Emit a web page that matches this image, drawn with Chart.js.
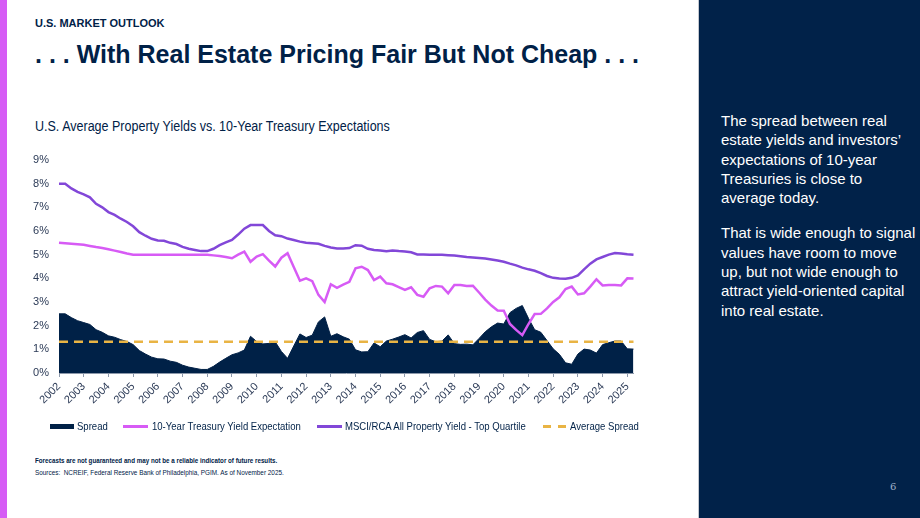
<!DOCTYPE html>
<html>
<head>
<meta charset="utf-8">
<title>Real Estate Pricing</title>
<script src="https://cdn.jsdelivr.net/npm/chart.js@4.4.1/dist/chart.umd.min.js"></script>
<style>
    html, body { margin: 0; padding: 0; }
    body {
        width: 920px; height: 518px; position: relative; overflow: hidden; background: #fff;
        font-family: 'Liberation Sans', Arial, sans-serif;
        color: #002147;
    }
    .stripe { position: absolute; left: 0; top: 0; width: 7px; height: 518px; background: #d65cf5; }
    .kicker { position: absolute; left: 35px; top: 17px; font-weight: bold; font-size: 11px; }
    .title { position: absolute; left: 35px; top: 40px; font-weight: bold; font-size: 25px; white-space: nowrap; }
    .narrow { transform-origin: 0 50%; white-space: nowrap; }
    .chart-title { position: absolute; left: 35px; top: 118px; font-size: 14px; transform: scaleX(0.894); }
    #chartWrap { position: absolute; left: 0; top: 140px; width: 660px; height: 280px; }
    .lg { position: absolute; top: 419px; font-size: 11.5px; line-height: 14px; transform: scaleX(0.83); }
    .sw { position: absolute; }
    .note { position: absolute; left: 35px; font-size: 7.5px; }
    .panel { position: absolute; left: 698px; top: 0; width: 222px; height: 518px; background: #012249; border-left: 1px solid #c3c7cf; box-sizing: border-box; }
    .panel p { margin: 0 0 16px 0; }
    .panel-text { position: absolute; left: 22px; top: 111px; color: #fff; font-size: 15px; line-height: 19.3px; white-space: nowrap; }
    .pagenum { position: absolute; left: 191px; top: 481px; font: 10px 'DejaVu Serif', serif; color: #9fb0c8; }
</style>
</head>
<body>
<div class="stripe"></div>
<div class="kicker">U.S. MARKET OUTLOOK</div>
<div class="title">. . . With Real Estate Pricing Fair But Not Cheap . . .</div>
<div class="chart-title narrow">U.S. Average Property Yields vs. 10-Year Treasury Expectations</div>

<div id="chartWrap"><canvas id="yieldChart" width="660" height="280"></canvas></div>

<div class="sw" style="left:50px;top:424px;width:24px;height:5px;background:#002147"></div>
<div class="lg narrow" style="left:77px">Spread</div>
<div class="sw" style="left:123px;top:425px;width:25px;height:2.5px;background:#d75bf5"></div>
<div class="lg narrow" style="left:152px">10-Year Treasury Yield Expectation</div>
<div class="sw" style="left:317px;top:425px;width:25px;height:2.5px;background:#8247d8"></div>
<div class="lg narrow" style="left:345px">MSCI/RCA All Property Yield - Top Quartile</div>
<div class="sw" style="left:543px;top:425px;width:8px;height:2.5px;background:#e9b444"></div>
<div class="sw" style="left:558px;top:425px;width:8px;height:2.5px;background:#e9b444"></div>
<div class="lg narrow" style="left:570px">Average Spread</div>

<div class="note narrow" style="top:456px;font-weight:bold;transform:scaleX(0.83)">Forecasts are not guaranteed and may not be a reliable indicator of future results.</div>
<div class="note narrow" style="top:468px;transform:scaleX(0.85)">Sources:&nbsp; NCREIF, Federal Reserve Bank of Philadelphia, PGIM. As of November 2025.</div>

<div class="panel">
    <div class="panel-text">
        <p>The spread between real<br>estate yields and investors’<br>expectations of 10-year<br>Treasuries is close to<br>average today.</p>
        <p>That is wide enough to signal<br>values have room to move<br>up, but not wide enough to<br>attract yield-oriented capital<br>into real estate.</p>
    </div>
    <div class="pagenum">6</div>
</div>

<script>
// Year tick labels; data is quarterly from 2002 Q1 to 2025 Q2
const years = ['2002', '2003', '2004', '2005', '2006', '2007', '2008', '2009', '2010', '2011', '2012', '2013',
    '2014', '2015', '2016', '2017', '2018', '2019', '2020', '2021', '2022', '2023', '2024', '2025'];

// MSCI/RCA All Property Yield - Top Quartile (%)
const propertyYield = [
    8.00, 8.00, 7.80, 7.65, 7.55, 7.42, 7.15, 7.00, 6.80, 6.68,
    6.52, 6.38, 6.20, 5.95, 5.80, 5.67, 5.60, 5.59, 5.50, 5.45,
    5.33, 5.25, 5.20, 5.15, 5.15, 5.25, 5.40, 5.52, 5.62, 5.85,
    6.10, 6.25, 6.25, 6.25, 6.00, 5.82, 5.78, 5.68, 5.62, 5.55,
    5.50, 5.48, 5.46, 5.37, 5.30, 5.26, 5.26, 5.28, 5.40, 5.38,
    5.25, 5.20, 5.18, 5.14, 5.18, 5.15, 5.13, 5.10, 5.01, 5.01,
    5.00, 5.00, 5.00, 4.98, 4.96, 4.93, 4.90, 4.88, 4.86, 4.84,
    4.80, 4.75, 4.70, 4.62, 4.55, 4.45, 4.38, 4.32, 4.22, 4.10,
    4.02, 3.99, 3.98, 4.02, 4.12, 4.38, 4.62, 4.80, 4.90, 5.00,
    5.07, 5.05, 5.02, 5.00
];

// 10-Year Treasury Yield Expectation (%)
const treasuryExpectation = [
    5.50, 5.48, 5.46, 5.44, 5.42, 5.37, 5.32, 5.28, 5.23, 5.17,
    5.11, 5.05, 5.00, 5.00, 5.00, 5.00, 5.00, 5.00, 5.00, 5.00,
    5.00, 5.00, 5.00, 5.00, 5.00, 4.97, 4.94, 4.90, 4.85, 5.00,
    5.13, 4.70, 4.92, 5.02, 4.75, 4.50, 4.87, 5.06, 4.48, 3.90,
    4.00, 3.88, 3.30, 3.00, 3.75, 3.60, 3.73, 3.85, 4.42, 4.49,
    4.35, 3.93, 4.07, 3.79, 3.75, 3.63, 3.51, 3.62, 3.30, 3.22,
    3.58, 3.68, 3.65, 3.37, 3.72, 3.72, 3.68, 3.69, 3.40, 3.10,
    2.85, 2.64, 2.63, 2.07, 1.82, 1.60, 2.07, 2.49, 2.50, 2.73,
    3.00, 3.20, 3.55, 3.65, 3.32, 3.37, 3.65, 3.96, 3.70, 3.72,
    3.72, 3.70, 4.00, 3.99
];

// Spread (%)
const spread = [
    2.50, 2.50, 2.34, 2.21, 2.13, 2.05, 1.83, 1.72, 1.57, 1.51,
    1.41, 1.33, 1.20, 0.95, 0.80, 0.67, 0.60, 0.59, 0.50, 0.45,
    0.33, 0.25, 0.20, 0.15, 0.15, 0.28, 0.46, 0.62, 0.77, 0.85,
    0.97, 1.55, 1.33, 1.23, 1.25, 1.32, 0.91, 0.62, 1.14, 1.65,
    1.50, 1.60, 2.16, 2.37, 1.55, 1.66, 1.53, 1.43, 0.98, 0.89,
    0.90, 1.27, 1.11, 1.35, 1.43, 1.52, 1.62, 1.48, 1.71, 1.79,
    1.42, 1.32, 1.35, 1.61, 1.24, 1.21, 1.22, 1.19, 1.46, 1.74,
    1.95, 2.11, 2.07, 2.55, 2.73, 2.85, 2.31, 1.83, 1.72, 1.37,
    1.02, 0.79, 0.43, 0.37, 0.80, 1.01, 0.97, 0.84, 1.20, 1.28,
    1.35, 1.35, 1.02, 1.01
];

const averageSpread = 1.32;

const NAVY = '#002147';
const MAGENTA = '#d75bf5';
const PURPLE = '#8247d8';
const GOLD = '#e9b444';
const AXIS = '#8c98aa';
const TICK = '#2c3b57';
const FONT = "'Liberation Sans', Arial, sans-serif";

// Quarter categories built from the year list, cut to the length of the data
const quarters = [];
years.forEach(y => ['Q1', 'Q2', 'Q3', 'Q4'].forEach(q => quarters.push(y + ' ' + q)));
quarters.length = propertyYield.length;

const isYearStart = i => quarters[i] && quarters[i].endsWith('Q1');

const ctx = document.getElementById('yieldChart').getContext('2d');
new Chart(ctx, {
    type: 'line',
    data: {
        labels: quarters,
        datasets: [
            {
                label: 'MSCI/RCA All Property Yield - Top Quartile',
                data: propertyYield,
                borderColor: PURPLE,
                borderWidth: 2.5,
                pointRadius: 0,
                fill: false,
                order: 1
            },
            {
                label: '10-Year Treasury Yield Expectation',
                data: treasuryExpectation,
                borderColor: MAGENTA,
                borderWidth: 2.5,
                pointRadius: 0,
                fill: false,
                order: 2
            },
            {
                label: 'Average Spread',
                data: [
                    { x: quarters[0], y: averageSpread },
                    { x: quarters[quarters.length - 1], y: averageSpread }
                ],
                borderColor: GOLD,
                borderWidth: 2.5,
                borderDash: [9, 6],
                pointRadius: 0,
                fill: false,
                order: 3
            },
            {
                label: 'Spread',
                data: spread,
                borderColor: NAVY,
                backgroundColor: NAVY,
                borderWidth: 1,
                pointRadius: 0,
                fill: 'origin',
                order: 4
            }
        ]
    },
    options: {
        responsive: false,
        animation: false,
        events: [],
        layout: { padding: { top: 20, right: 26.5, bottom: 0, left: 0 } },
        plugins: {
            legend: { display: false },
            tooltip: { enabled: false }
        },
        scales: {
            x: {
                type: 'category',
                grid: {
                    display: true,
                    drawOnChartArea: false,
                    drawTicks: true,
                    tickLength: 4,
                    color: 'rgba(0,0,0,0)',
                    tickColor: c => isYearStart(c.index) ? AXIS : 'rgba(0,0,0,0)'
                },
                border: { display: true, color: AXIS, width: 1 },
                ticks: {
                    autoSkip: false,
                    maxRotation: 45,
                    minRotation: 45,
                    padding: 3,
                    color: TICK,
                    font: { family: FONT, size: 11 },
                    callback: function(value, index) {
                        return isYearStart(index) ? quarters[index].slice(0, 4) : '';
                    }
                },
                afterFit: scale => { scale.height = 47; }
            },
            y: {
                min: 0,
                max: 9,
                grid: { display: false, drawTicks: false },
                border: { display: false },
                ticks: {
                    stepSize: 1,
                    padding: 10,
                    color: TICK,
                    font: { family: FONT, size: 11 },
                    callback: value => value + '%'
                },
                afterFit: scale => { scale.width = 59; }
            }
        }
    }
});
</script>
</body>
</html>
